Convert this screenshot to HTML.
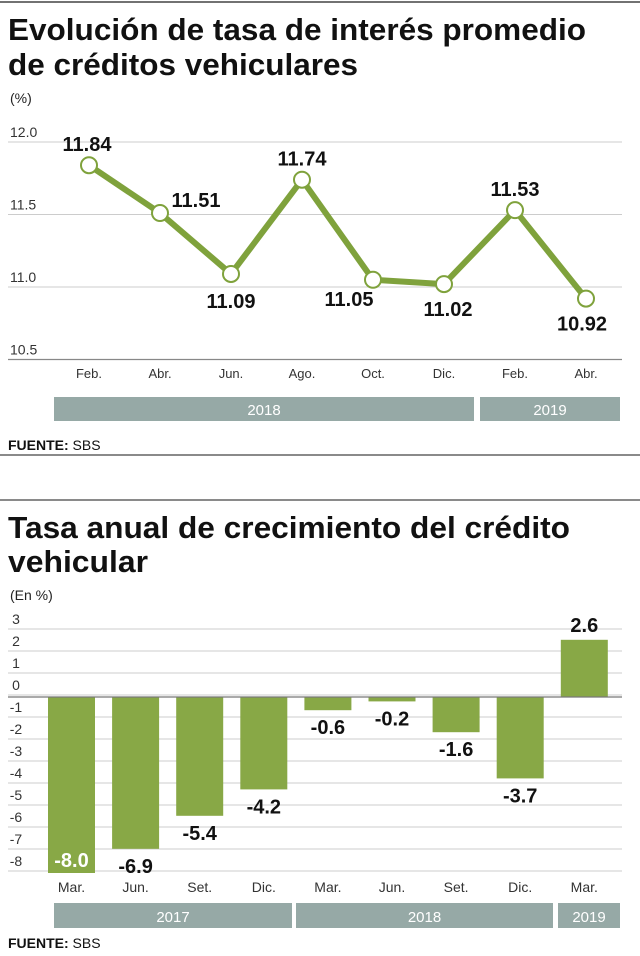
<!DOCTYPE html>
<html><head><meta charset="utf-8"><style>
html,body{margin:0;padding:0;background:#fff;}
svg{display:block;font-family:"Liberation Sans",sans-serif;}
</style></head><body>
<svg id="s" width="640" height="956" viewBox="0 0 640 956">
<line x1="0" y1="2" x2="640" y2="2" stroke="#444" stroke-width="1.5"/>
<text x="8" y="40" font-size="31" font-weight="bold" textLength="578" lengthAdjust="spacingAndGlyphs" fill="#111">Evolución de tasa de interés promedio</text>
<text x="8" y="75" font-size="31" font-weight="bold" textLength="350" lengthAdjust="spacingAndGlyphs" fill="#111">de créditos vehiculares</text>
<text x="10" y="103" font-size="14" fill="#222">(%)</text>
<g id="c1"></g>
<text x="8" y="450" font-size="14" fill="#111"><tspan font-weight="bold">FUENTE:</tspan> SBS</text>
<line x1="0" y1="455" x2="640" y2="455" stroke="#444" stroke-width="1.2"/>
<line x1="0" y1="500" x2="640" y2="500" stroke="#444" stroke-width="1.2"/>
<text x="8" y="538" font-size="31" font-weight="bold" textLength="562" lengthAdjust="spacingAndGlyphs" fill="#111">Tasa anual de crecimiento del crédito</text>
<text x="8" y="572" font-size="31" font-weight="bold" textLength="140" lengthAdjust="spacingAndGlyphs" fill="#111">vehicular</text>
<text x="10" y="600" font-size="14" fill="#222">(En %)</text>
<g id="c2"></g>
<text x="8" y="948" font-size="14" fill="#111"><tspan font-weight="bold">FUENTE:</tspan> SBS</text>
</svg>
<script>
const lineMonths=["Feb.","Abr.","Jun.","Ago.","Oct.","Dic.","Feb.","Abr."];
const lineValues=[11.84,11.51,11.09,11.74,11.05,11.02,11.53,10.92];
const lineLabels=["11.84","11.51","11.09","11.74","11.05","11.02","11.53","10.92"];
const lineTicks=[12.0,11.5,11.0,10.5];
const lineTickLabels=["12.0","11.5","11.0","10.5"];
const lineYears=["2018","2019"];
const barMonths=["Mar.","Jun.","Set.","Dic.","Mar.","Jun.","Set.","Dic.","Mar."];
const barValues=[-8.0,-6.9,-5.4,-4.2,-0.6,-0.2,-1.6,-3.7,2.6];
const barLabels=["-8.0","-6.9","-5.4","-4.2","-0.6","-0.2","-1.6","-3.7","2.6"];
const barTicks=[3,2,1,0,-1,-2,-3,-4,-5,-6,-7,-8];
const barYears=["2017","2018","2019"];
const NS="http://www.w3.org/2000/svg";
function mk(p,t,a,txt){const e=document.createElementNS(NS,t);for(const k in a)e.setAttribute(k,a[k]);if(txt!==undefined)e.textContent=txt;p.appendChild(e);return e;}
// chart 1
const c1=document.getElementById('c1');
const y1=v=>142+(12.0-v)*145;
const x1=i=>89+i*71;
lineTicks.forEach((t,i)=>{
 const g=mk(c1,'line',{x1:8,x2:622,y1:y1(t),y2:y1(t),stroke:i==3?'#888':'#ccc','stroke-width':i==3?1.2:1});
 
 
 const l=mk(c1,'text',{x:10,y:y1(t)-5,'font-size':14,fill:'#333'},lineTickLabels[i]);
 
 
});
const pts=lineValues.map((v,i)=>x1(i)+','+y1(v)).join(' ');
const pl=mk(c1,'polyline',{points:pts,fill:'none',stroke:'#7fa23c','stroke-width':6,'stroke-linejoin':'round'});


const lblOff=[[-2,-14],[36,-6],[0,34],[0,-14],[-24,26],[4,32],[0,-14],[-4,32]];
lineValues.forEach((v,i)=>{
 const c=mk(c1,'circle',{cx:x1(i),cy:y1(v),r:8,fill:'#fff',stroke:'#7fa23c','stroke-width':2});
 
 
 const t=mk(c1,'text',{x:x1(i)+lblOff[i][0],y:y1(v)+lblOff[i][1],'font-size':20,'font-weight':'bold','text-anchor':'middle',fill:'#111'},lineLabels[i]);
 
 
 const m=mk(c1,'text',{x:x1(i),y:378,'font-size':13,'text-anchor':'middle',fill:'#333'},lineMonths[i]);
 
 
});
[[54,474],[480,620]].forEach((r,i)=>{
 const b=mk(c1,'rect',{x:r[0],y:397,width:r[1]-r[0],height:24,fill:'#96a9a6'});
 
 
 const t=mk(c1,'text',{x:(r[0]+r[1])/2,y:415,'font-size':15,'text-anchor':'middle',fill:'#fff'},lineYears[i]);
 
 
});
// chart 2
const c2=document.getElementById('c2');
const y2=v=>697-v*22;
const x2=i=>48+i*64.1;
const bw=47;
barTicks.forEach(t=>{
 const g=mk(c2,'line',{x1:8,x2:622,y1:y2(t)-2,y2:y2(t)-2,stroke:'#ccc','stroke-width':1});
 
 
 const l=mk(c2,'text',{x:16,y:y2(t)-7,'font-size':14,'text-anchor':'middle',fill:'#333'},t);
 
 
});
barValues.forEach((v,i)=>{
 const top=Math.min(y2(v),y2(0)), h=Math.abs(y2(v)-y2(0));
 const r=mk(c2,'rect',{x:x2(i),y:top,width:bw,height:h,fill:'#88a846'});
 
 
 let ly, col='#111';
 if(v>=0) ly=y2(v)-8;
 else if(i==0){ly=y2(v)-6;col='#fff';}
 else ly=y2(v)+24;
 const t=mk(c2,'text',{x:x2(i)+bw/2,y:ly,'font-size':20,'font-weight':'bold','text-anchor':'middle',fill:col},barLabels[i]);
 
 
 const m=mk(c2,'text',{x:x2(i)+bw/2,y:892,'font-size':14,'text-anchor':'middle',fill:'#333'},barMonths[i]);
 
 
});
const z=mk(c2,'line',{x1:8,x2:622,y1:y2(0),y2:y2(0),stroke:'#777','stroke-width':1.2});


[[54,292],[296,553],[558,620]].forEach((r,i)=>{
 const b=mk(c2,'rect',{x:r[0],y:903,width:r[1]-r[0],height:25,fill:'#96a9a6'});
 
 
 const t=mk(c2,'text',{x:(r[0]+r[1])/2,y:922,'font-size':15,'text-anchor':'middle',fill:'#fff'},barYears[i]);
 
 
});
</script>
</body></html>
